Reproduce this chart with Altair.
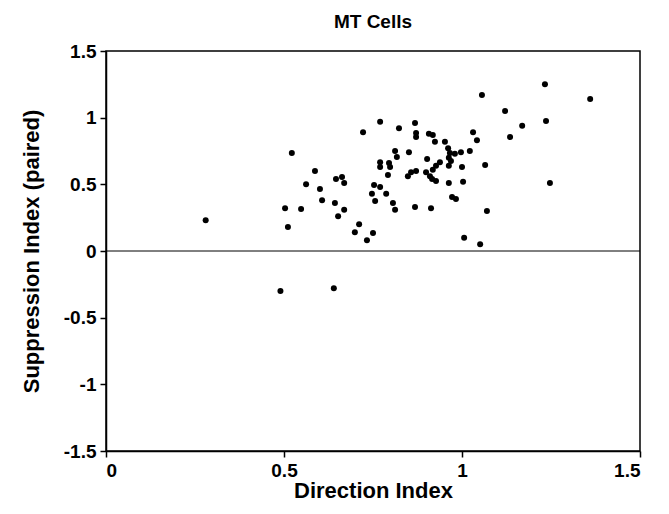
import altair as alt
import pandas as pd

xs = [1.056,1.121,1.135,0.770,0.722,0.823,0.868,0.871,0.871,0.907,0.918,0.924,0.952,0.961,1.031,1.042,
      0.522,0.812,0.817,0.851,0.966,0.980,0.997,1.022,0.963,0.969,0.963,0.938,0.927,0.918,0.902,
      0.770,0.770,0.795,0.798,0.792,1.065,1.000,0.871,0.857,0.848,0.899,0.910,0.916,0.927,0.963,1.003,
      0.587,0.562,0.601,0.607,0.646,0.663,0.669,0.643,0.669,0.652,0.753,0.770,0.747,0.756,0.787,0.806,0.812,
      0.972,0.983,0.868,0.913,1.070,0.503,0.548,0.511,0.711,0.699,0.750,0.733,1.006,1.051,
      1.233,1.36,1.169,1.236,1.247,0.28,0.49,0.64]
ys = [1.17,1.05,0.855,0.97,0.89,0.92,0.96,0.885,0.855,0.88,0.87,0.82,0.82,0.77,0.89,0.83,
      0.735,0.75,0.705,0.74,0.735,0.73,0.74,0.75,0.70,0.675,0.64,0.665,0.64,0.61,0.69,
      0.665,0.63,0.66,0.63,0.57,0.645,0.63,0.60,0.59,0.56,0.59,0.56,0.54,0.525,0.51,0.52,
      0.60,0.50,0.465,0.38,0.54,0.555,0.51,0.36,0.31,0.26,0.495,0.48,0.43,0.375,0.43,0.36,0.31,
      0.405,0.39,0.33,0.32,0.30,0.32,0.315,0.18,0.20,0.14,0.135,0.08,0.10,0.05,
      1.25,1.14,0.94,0.975,0.51,0.23,-0.30,-0.28]

df = pd.DataFrame({"x": xs, "y": ys})
fnt = "Liberation Sans"
lab = "replace(format(datum.value, '~g'), '\u2212', '-')"
common = dict(labelExpr=lab, grid=False, tickSize=6, tickColor="black", domainColor="black",
              labelPadding=4, labelFont=fnt, labelFontSize=19, labelFontWeight="bold", labelColor="black",
              titleFont=fnt, titleFontSize=22, titleFontWeight="bold", titleColor="black",
              domainWidth=1.5, tickWidth=1.5)

pts = alt.Chart(df).mark_circle(size=36, color="black", opacity=1).encode(
    x=alt.X("x:Q", scale=alt.Scale(domain=[0, 1.5], nice=False),
            axis=alt.Axis(title="Direction Index", values=[0, 0.5, 1, 1.5], titlePadding=0, **common)),
    y=alt.Y("y:Q", scale=alt.Scale(domain=[-1.5, 1.5], nice=False),
            axis=alt.Axis(title="Suppression Index  (paired)", values=[-1.5, -1, -0.5, 0, 0.5, 1, 1.5],
                          titlePadding=20, **common)),
)
zero = alt.Chart(pd.DataFrame({"y": [0]})).mark_rule(color="black", strokeWidth=1).encode(y="y:Q")

chart = (zero + pts).properties(
    width=534, height=400, padding={"left": 12, "top": 5, "right": 5, "bottom": 5},
    title=alt.Title("MT  Cells", font=fnt, fontSize=19, fontWeight="bold", offset=10)
).configure_view(stroke="black", strokeWidth=1.5)

chart.save("out.html", embed_options={"renderer": "svg", "actions": False})
